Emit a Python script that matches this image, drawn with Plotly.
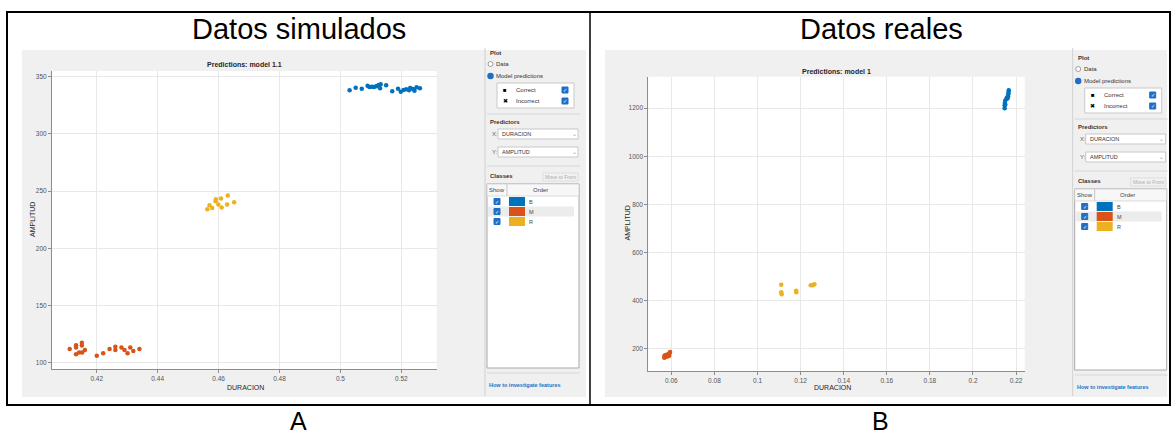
"""Two Classification Learner scatter views: simulated vs real data."""

import plotly.graph_objects as go

W, H = 1173, 434

# ---- data ----
sim_b_dur = [0.5030, 0.5050, 0.5070, 0.5089, 0.5095, 0.5103, 0.5110, 0.5117, 0.5125,
             0.5130, 0.5132, 0.5150, 0.5170, 0.5189, 0.5198, 0.5207, 0.5216, 0.5225,
             0.5229, 0.5238, 0.5243, 0.5250, 0.5261]
sim_b_amp = [338.1, 340.4, 339.5, 342.1, 341.0, 341.3, 341.0, 341.6, 342.8,
             339.9, 343.4, 342.5, 337.2, 339.5, 336.9, 338.4, 339.0, 338.1,
             340.1, 339.2, 337.8, 340.7, 339.9]
sim_m_dur = [0.4111, 0.4132, 0.4132, 0.4132, 0.4142, 0.4151, 0.4151, 0.4152, 0.4161, 0.4200,
             0.4221, 0.4242, 0.4261, 0.4261, 0.4281, 0.4291, 0.4301, 0.4310, 0.4320, 0.4340]
sim_m_amp = [112.0, 115.2, 113.2, 107.3, 108.8, 117.5, 114.9, 108.8, 111.1, 106.1,
             108.2, 112.0, 114.0, 111.1, 113.2, 111.1, 108.2, 113.2, 110.2, 112.0]
sim_r_dur = [0.4563, 0.4570, 0.4579, 0.4590, 0.4591, 0.4599, 0.4608, 0.4610, 0.4628, 0.4630, 0.4651]
sim_r_amp = [234.1, 237.6, 235.3, 241.1, 242.8, 238.2, 243.5, 235.6, 238.2, 246.1, 240.2]

real_b_dur = [0.2147, 0.2147, 0.2148, 0.2150, 0.2150, 0.2155, 0.2158, 0.2160, 0.2163,
              0.2164, 0.2165, 0.2166]
real_b_amp = [1200, 1212, 1222, 1215, 1232, 1238, 1245, 1240, 1248, 1258, 1265, 1275]
real_m_dur = [0.0567, 0.0568, 0.0572, 0.0575, 0.0578, 0.0582, 0.0585, 0.0588, 0.0590,
              0.0592, 0.0594]
real_m_amp = [162, 170, 172, 165, 175, 174, 168, 178, 170, 182, 186]
real_r_dur = [0.1110, 0.1110, 0.1112, 0.1179, 0.1180, 0.1247, 0.1256, 0.1264]
real_r_amp = [466, 435, 426, 441, 435, 464, 464, 468]

sim_xticks = [0.42, 0.44, 0.46, 0.48, 0.50, 0.52]
sim_xlabels = ["0.42", "0.44", "0.46", "0.48", "0.5", "0.52"]
sim_yticks = [100, 150, 200, 250, 300, 350]
real_xticks = [0.06, 0.08, 0.10, 0.12, 0.14, 0.16, 0.18, 0.20, 0.22]
real_xlabels = ["0.06", "0.08", "0.1", "0.12", "0.14", "0.16", "0.18", "0.2", "0.22"]
real_yticks = [200, 400, 600, 800, 1000, 1200]

class_names = ["B", "M", "R"]
class_colors = ["#0072BD", "#D95319", "#EDB120"]

FONT = "Liberation Sans, Arial, sans-serif"


def px(x):
    return x / W


def py(y):
    return 1 - y / H


shapes = []
annotations = []


def rect(x0, y0, x1, y1, fill=None, line=None, width=1, layer="above"):
    shapes.append(dict(
        type="rect", xref="paper", yref="paper",
        x0=px(x0), x1=px(x1), y0=py(y1), y1=py(y0),
        fillcolor=fill or "rgba(0,0,0,0)",
        line=dict(color=line or "rgba(0,0,0,0)", width=width if line else 0),
        layer=layer,
    ))


def hline(x0, x1, y, color="#d6d6d6", width=1):
    shapes.append(dict(type="line", xref="paper", yref="paper",
                       x0=px(x0), x1=px(x1), y0=py(y), y1=py(y),
                       line=dict(color=color, width=width)))


def vline(x, y0, y1, color="#d6d6d6", width=1):
    shapes.append(dict(type="line", xref="paper", yref="paper",
                       x0=px(x), x1=px(x), y0=py(y0), y1=py(y1),
                       line=dict(color=color, width=width)))


def text(x, y, s, size=6, color="#333333", xanchor="left", bold=False, angle=0):
    annotations.append(dict(
        x=px(x), y=py(y), xref="paper", yref="paper", text=f"<b>{s}</b>" if bold else s,
        showarrow=False, xanchor=xanchor, yanchor="middle", textangle=angle,
        font=dict(family=FONT, size=size, color=color),
    ))


def checkbox(x, y):
    rect(x - 3, y - 3, x + 3, y + 3, fill="#1f6fc5", line="#1f6fc5")
    text(x, y, "✓", size=5, color="white", xanchor="center")


def side_panel(x0, dy, tbl_bottom, link_y):
    vline(x0, 48, 396, color="#d0d0d0")
    text(x0 + 3, 53 + dy, "Plot", size=6, bold=True)
    # radio buttons
    shapes.append(dict(type="circle", xref="paper", yref="paper",
                       x0=px(x0 + 3), x1=px(x0 + 8), y0=py(66.5 + dy), y1=py(61.5 + dy),
                       line=dict(color="#888888", width=0.8), fillcolor="white"))
    text(x0 + 9, 64 + dy, "Data", size=6)
    shapes.append(dict(type="circle", xref="paper", yref="paper",
                       x0=px(x0 + 3), x1=px(x0 + 8), y0=py(78.5 + dy), y1=py(73.5 + dy),
                       line=dict(color="#1f6fc5", width=1.5), fillcolor="#1f6fc5"))
    text(x0 + 9, 76 + dy, "Model predictions", size=6)
    rect(x0 + 12, 83 + dy, x0 + 89, 108 + dy, fill="white", line="#c8c8c8")
    text(x0 + 20, 90 + dy, "■", size=6, color="black", xanchor="center")
    text(x0 + 29, 90 + dy, "Correct", size=6)
    checkbox(x0 + 80, 90 + dy)
    text(x0 + 20, 101 + dy, "✖", size=6, color="black", xanchor="center")
    text(x0 + 29, 101 + dy, "Incorrect", size=6)
    checkbox(x0 + 80, 101 + dy)
    hline(x0 + 2, x0 + 95, 114 + dy)
    # predictors
    text(x0 + 3, 122 + dy, "Predictors", size=6, bold=True)
    text(x0 + 5, 134 + dy, "X:", size=6, color="#666666")
    rect(x0 + 13, 129 + dy, x0 + 93, 139 + dy, fill="white", line="#c8c8c8")
    text(x0 + 15, 134 + dy, "DURACION", size=5.5)
    text(x0 + 89, 134 + dy, "⌄", size=6, color="#999999", xanchor="center")
    text(x0 + 5, 152 + dy, "Y:", size=6, color="#666666")
    rect(x0 + 13, 147 + dy, x0 + 93, 157 + dy, fill="white", line="#c8c8c8")
    text(x0 + 15, 152 + dy, "AMPLITUD", size=5.5)
    text(x0 + 89, 152 + dy, "⌄", size=6, color="#999999", xanchor="center")
    hline(x0 + 2, x0 + 95, 166 + dy)
    # classes table
    text(x0 + 3, 176 + dy, "Classes", size=6, bold=True)
    rect(x0 + 58, 173 + dy, x0 + 93, 181 + dy, fill="#f2f2f2", line="#dddddd")
    text(x0 + 75.5, 177 + dy, "Move to Front", size=5, color="#aaaaaa", xanchor="center")
    rect(x0 + 2, 184 + dy, x0 + 94, tbl_bottom, fill="white", line="#a8a8a8")
    rect(x0 + 2, 184 + dy, x0 + 94, 196 + dy, fill="#f7f7f7", line="#c8c8c8", width=0.6)
    vline(x0 + 22, 184 + dy, 196 + dy, color="#c8c8c8")
    text(x0 + 12, 190 + dy, "Show", size=6, color="#444444", xanchor="center")
    text(x0 + 55, 190 + dy, "Order", size=6, color="#444444", xanchor="center")
    for i, (name, col) in enumerate(zip(class_names, class_colors)):
        yc = 201.5 + dy + 10 * i
        if i == 1:
            rect(x0 + 3, yc - 5, x0 + 89, yc + 5, fill="#ececec")
        checkbox(x0 + 12, yc)
        rect(x0 + 24, yc - 4.5, x0 + 40, yc + 4.5, fill=col)
        text(x0 + 42, yc, name, size=5.5, color="#444444")
    hline(x0 + 2, x0 + 95, link_y - 12)
    text(x0 + 2, link_y, "How to investigate features", size=5.5, color="#1f6fc5", bold=True)


# ---- background frames and screenshot panels ----
rect(22, 50, 586, 397, fill="#f0f0f0", layer="below")
rect(605, 50, 1167, 397, fill="#f0f0f0", layer="below")
rect(52, 71, 436.7, 369.3, fill="white", layer="below")
rect(648.3, 76.7, 1024.7, 371, fill="white", layer="below")
rect(7, 12, 1170, 405, line="black", width=2)
vline(590, 12, 405, color="black", width=1.5)

side_panel(485, 0, 368, 385)
side_panel(1072.7, 5, 370, 387)

# ---- headings ----
text(299, 29, "Datos simulados", size=29, color="black", xanchor="center")
text(881, 29, "Datos reales", size=29, color="black", xanchor="center")
text(298, 421, "A", size=25, color="black", xanchor="center")
text(880, 421, "B", size=25, color="black", xanchor="center")
text(244.5, 65, "Predictions: model 1.1", size=7, color="#262626", xanchor="center", bold=True)
text(836.5, 71.5, "Predictions: model 1", size=7, color="#262626", xanchor="center", bold=True)
text(245, 387, "DURACION", size=7, color="#262626", xanchor="center")
text(832, 387, "DURACION", size=7, color="#262626", xanchor="center")
text(32, 220, "AMPLITUD", size=7, color="#262626", xanchor="center", angle=-90)
text(626.5, 223, "AMPLITUD", size=7, color="#262626", xanchor="center", angle=-90)

fig = go.Figure()

series = [
    (sim_b_dur, sim_b_amp, 0, "x", "y"),
    (sim_m_dur, sim_m_amp, 1, "x", "y"),
    (sim_r_dur, sim_r_amp, 2, "x", "y"),
    (real_b_dur, real_b_amp, 0, "x2", "y2"),
    (real_m_dur, real_m_amp, 1, "x2", "y2"),
    (real_r_dur, real_r_amp, 2, "x2", "y2"),
]
for xs, ys, ci, xa, ya in series:
    fig.add_trace(go.Scatter(
        x=xs, y=ys, mode="markers", xaxis=xa, yaxis=ya,
        name=class_names[ci], showlegend=False,
        marker=dict(color=class_colors[ci], size=4.5, line=dict(width=0)),
    ))

axis_common = dict(
    showgrid=True, gridcolor="#e8e8e8", gridwidth=1, zeroline=False,
    showline=True, linecolor="#8c8c8c", linewidth=1,
    ticks="outside", ticklen=3, tickcolor="#8c8c8c",
    tickfont=dict(family=FONT, size=6.5, color="#555555"),
)

fig.update_layout(
    width=W, height=H,
    margin=dict(l=0, r=0, t=0, b=0),
    paper_bgcolor="white",
    plot_bgcolor="rgba(0,0,0,0)",
    xaxis=dict(domain=[px(52), px(436.7)], range=[0.4053, 0.5316], anchor="y",
               tickvals=sim_xticks, ticktext=sim_xlabels, **axis_common),
    yaxis=dict(domain=[py(369.3), py(71)], range=[94.2, 355], anchor="x",
               tickvals=sim_yticks, **axis_common),
    xaxis2=dict(domain=[px(648.3), px(1024.7)], range=[0.0493, 0.224], anchor="y2",
                tickvals=real_xticks, ticktext=real_xlabels, **axis_common),
    yaxis2=dict(domain=[py(371), py(76.7)], range=[107, 1331], anchor="x2",
                tickvals=real_yticks, **axis_common),
    shapes=shapes,
    annotations=annotations,
)

# drop the default page margin so the figure sits at the window's corner
fig.write_html("out.html", config={"displayModeBar": False},
               post_script="document.body.style.margin='0';")
